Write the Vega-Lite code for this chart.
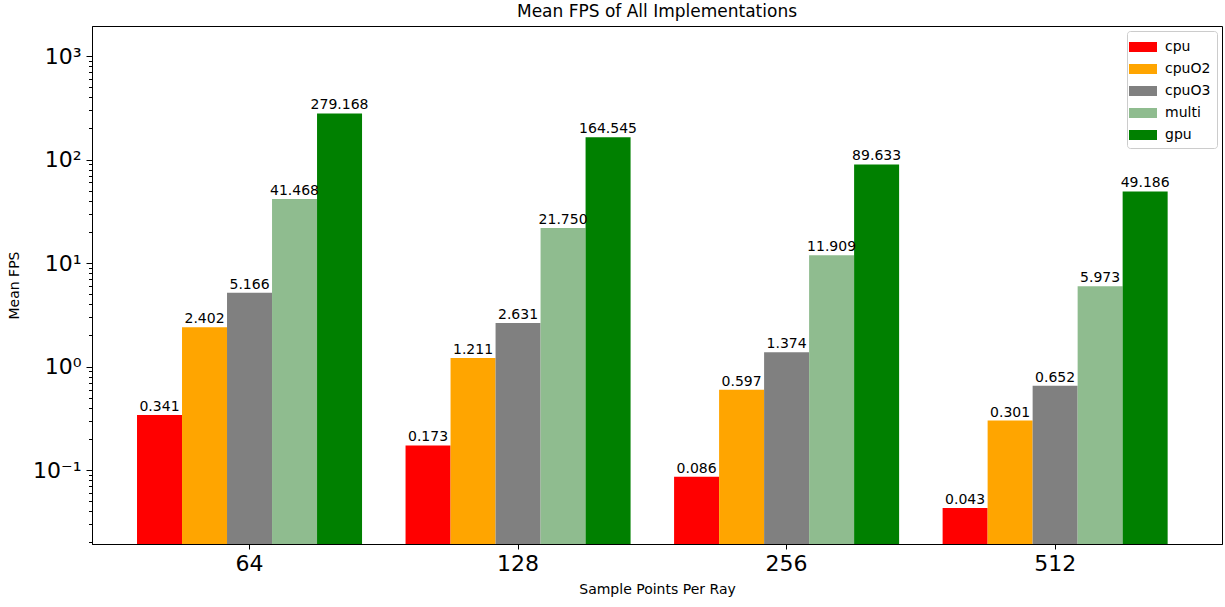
{
  "$schema": "https://vega.github.io/schema/vega-lite/v6.json",
  "width": 1130,
  "height": 518,
  "autosize": {"type": "none"},
  "padding": {"left": 92, "top": 26, "right": 3, "bottom": 63},
  "title": {"text": "Mean FPS of All Implementations", "fontSize": 17, "fontWeight": "normal", "font": "DejaVu Sans", "offset": 5, "color": "#000000"},
  "config": {
    "font": "DejaVu Sans",
    "view": {"stroke": "#000000", "strokeWidth": 1},
    "axis": {"domainColor": "#000000", "tickColor": "#000000", "labelColor": "#000000", "titleColor": "#000000", "labelFont": "DejaVu Sans", "titleFont": "DejaVu Sans", "titleFontWeight": "normal", "grid": false},
    "legend": {
      "orient": "top-right", "offset": 5, "direction": "vertical",
      "fillColor": "#ffffff", "strokeColor": "#cccccc", "cornerRadius": 3, "padding": 6,
      "symbolType": "M-1.4,-0.5L1.4,-0.5L1.4,0.5L-1.4,0.5Z", "symbolSize": 400, "symbolStrokeWidth": 0, "symbolOpacity": 1,
      "labelFontSize": 14, "labelFont": "DejaVu Sans", "labelColor": "#000000", "labelOffset": 12, "rowPadding": 5
    }
  },
  "data": {"values": [
    {"spp": "64", "impl": "cpu", "fps": 0.341},
    {"spp": "64", "impl": "cpuO2", "fps": 2.402},
    {"spp": "64", "impl": "cpuO3", "fps": 5.166},
    {"spp": "64", "impl": "multi", "fps": 41.468},
    {"spp": "64", "impl": "gpu", "fps": 279.168},
    {"spp": "128", "impl": "cpu", "fps": 0.173},
    {"spp": "128", "impl": "cpuO2", "fps": 1.211},
    {"spp": "128", "impl": "cpuO3", "fps": 2.631},
    {"spp": "128", "impl": "multi", "fps": 21.750},
    {"spp": "128", "impl": "gpu", "fps": 164.545},
    {"spp": "256", "impl": "cpu", "fps": 0.086},
    {"spp": "256", "impl": "cpuO2", "fps": 0.597},
    {"spp": "256", "impl": "cpuO3", "fps": 1.374},
    {"spp": "256", "impl": "multi", "fps": 11.909},
    {"spp": "256", "impl": "gpu", "fps": 89.633},
    {"spp": "512", "impl": "cpu", "fps": 0.043},
    {"spp": "512", "impl": "cpuO2", "fps": 0.301},
    {"spp": "512", "impl": "cpuO3", "fps": 0.652},
    {"spp": "512", "impl": "multi", "fps": 5.973},
    {"spp": "512", "impl": "gpu", "fps": 49.186}
  ]},
  "encoding": {
    "x": {
      "field": "spp", "type": "nominal", "sort": ["64", "128", "256", "512"],
      "scale": {"paddingInner": 0.162, "paddingOuter": 0.185, "align": 0.453},
      "axis": {"title": "Sample Points Per Ray", "labelAngle": 0, "labelFontSize": 22, "tickSize": 5, "labelPadding": 4, "titleFontSize": 14, "titlePadding": 8}
    },
    "xOffset": {
      "field": "impl", "type": "nominal", "sort": ["cpu", "cpuO2", "cpuO3", "multi", "gpu"],
      "scale": {"paddingInner": 0, "paddingOuter": 0}
    }
  },
  "layer": [
    {
      "mark": {"type": "bar", "clip": true},
      "encoding": {
        "y": {
          "field": "fps", "type": "quantitative", "stack": null,
          "scale": {"type": "log", "domain": [0.0193, 1950], "nice": false},
          "axis": {
            "orient": "left",
            "title": "Mean FPS", "titleFontSize": 14, "titleAngle": -90, "titleX": -78, "titleY": 259, "titleBaseline": "middle", "titleAlign": "center",
            "values": [0.1, 1, 10, 100, 1000],
            "labelExpr": "'10' + ['⁻¹','⁰','¹','²','³'][round(log(datum.value)/LN10) + 1]",
            "labelFontSize": 22, "tickSize": 6, "labelPadding": 5
          }
        },
        "y2": {"datum": 0.0193},
        "color": {
          "field": "impl", "type": "nominal", "title": null,
          "scale": {"domain": ["cpu", "cpuO2", "cpuO3", "multi", "gpu"], "range": ["#ff0000", "#ffa500", "#808080", "#8fbc8f", "#008000"]}
        }
      }
    },
    {
      "mark": {"type": "text", "baseline": "bottom", "dy": -1, "fontSize": 14, "font": "DejaVu Sans", "color": "#000000"},
      "encoding": {
        "y": {
          "field": "fps", "type": "quantitative",
          "axis": {
            "orient": "left", "title": null, "labels": false, "domain": false, "tickSize": 3.5,
            "values": [0.02, 0.03, 0.04, 0.05, 0.06, 0.07, 0.08, 0.09, 0.2, 0.3, 0.4, 0.5, 0.6, 0.7, 0.8, 0.9, 2, 3, 4, 5, 6, 7, 8, 9, 20, 30, 40, 50, 60, 70, 80, 90, 200, 300, 400, 500, 600, 700, 800, 900]
          }
        },
        "text": {"field": "fps", "type": "quantitative", "format": ".3f"}
      }
    }
  ],
  "resolve": {"axis": {"y": "independent"}}
}
